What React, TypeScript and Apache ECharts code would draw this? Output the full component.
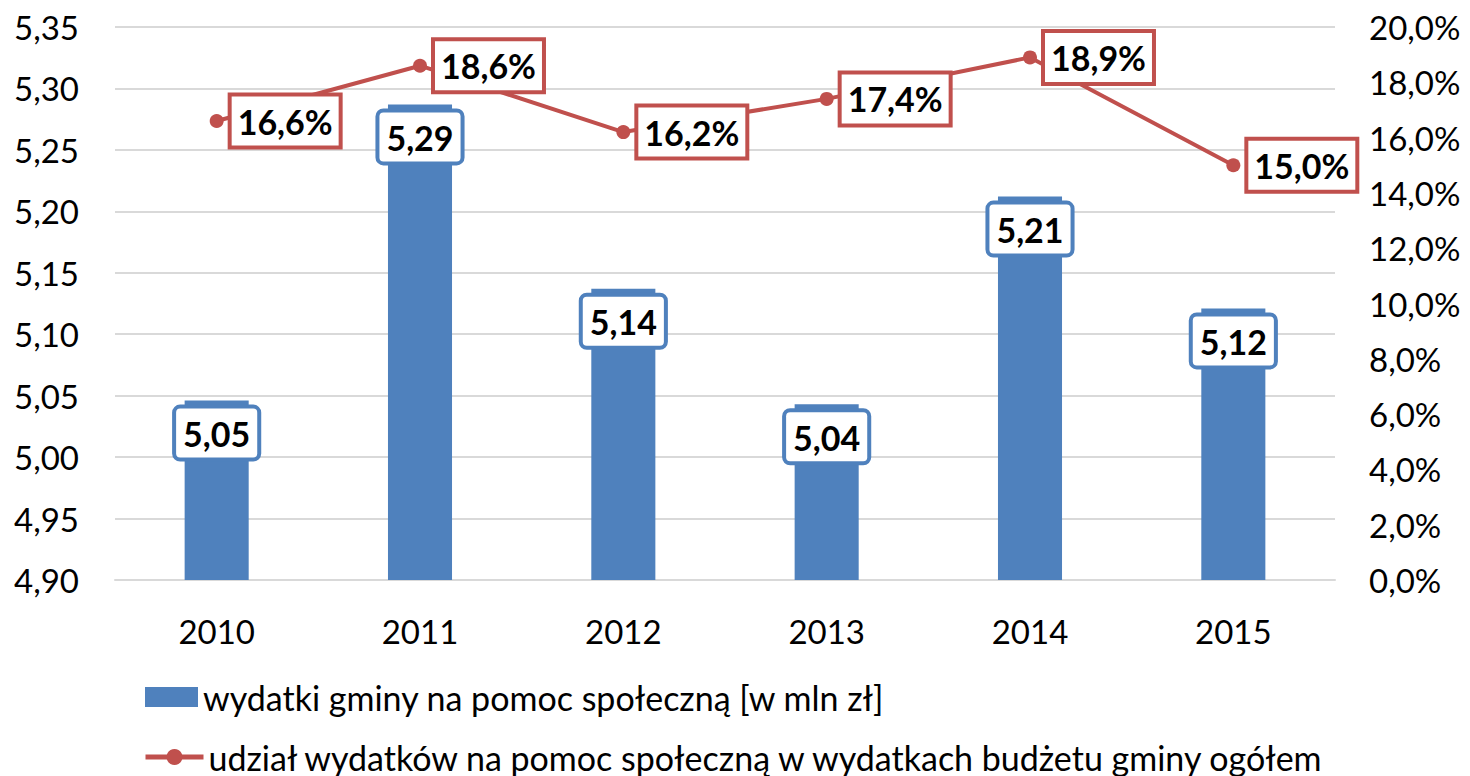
import React, { useEffect, useRef } from "react";
import * as echarts from "echarts";

const years = ["2010", "2011", "2012", "2013", "2014", "2015"];
const spending = [5.046, 5.287, 5.137, 5.043, 5.212, 5.121];
const share = [16.6, 18.6, 16.2, 17.4, 18.9, 15.0];
const barName = "wydatki gminy na pomoc społeczną [w mln zł]";
const lineName = "udział wydatków na pomoc społeczną w wydatkach budżetu gminy ogółem";

const BLUE = "#4F81BD";
const RED = "#C0504D";
const FONT = "Lato";
const FS = 33;

export default function App() {
  const ref = useRef<HTMLDivElement>(null);
  useEffect(() => {
    const chart = echarts.init(ref.current!, null, { renderer: "svg" });
    const legendText = { fontFamily: FONT, fontSize: 34, color: "#000", lineHeight: 40 };
    chart.setOption({
      animation: false,
      textStyle: { fontFamily: FONT },
      grid: { left: 115, right: 135, top: 27, bottom: 196, containLabel: false },
      legend: [
        {
          left: 145,
          top: 677,
          padding: 0,
          itemWidth: 53,
          itemHeight: 20,
          textStyle: legendText,
          data: [{ name: barName, icon: "rect" }],
        },
        {
          left: 143,
          top: 737,
          padding: 0,
          itemWidth: 58,
          itemHeight: 20,
          textStyle: legendText,
          lineStyle: { width: 5, color: RED },
          data: [{ name: lineName }],
        },
      ],
      xAxis: {
        type: "category",
        data: years,
        axisLine: { lineStyle: { color: "#D9D9D9", width: 2 } },
        axisTick: { show: false },
        axisLabel: { fontSize: FS, color: "#000", margin: 34, fontFamily: FONT },
      },
      yAxis: [
        {
          type: "value",
          min: 4.9,
          max: 5.35,
          interval: 0.05,
          axisLine: { show: false },
          axisTick: { show: false },
          splitLine: { lineStyle: { color: "#D9D9D9", width: 2 } },
          axisLabel: {
            fontSize: FS,
            color: "#000",
            margin: 36,
            fontFamily: FONT,
            formatter: (v: number) => v.toFixed(2).replace(".", ","),
          },
        },
        {
          type: "value",
          min: 0,
          max: 20,
          interval: 2,
          axisLine: { show: false },
          axisTick: { show: false },
          splitLine: { show: false },
          axisLabel: {
            fontSize: FS,
            color: "#000",
            margin: 34,
            fontFamily: FONT,
            formatter: (v: number) => v.toFixed(1).replace(".", ",") + "%",
          },
        },
      ],
      series: [
        {
          name: barName,
          type: "bar",
          data: spending,
          barWidth: "31.5%",
          itemStyle: { color: BLUE },
          label: {
            show: true,
            position: "insideTop",
            distance: 8,
            formatter: (p: any) => p.value.toFixed(2).replace(".", ","),
            fontSize: 34,
            lineHeight: 38,
            fontWeight: "bold",
            fontFamily: FONT,
            color: "#000",
            backgroundColor: "#fff",
            borderColor: BLUE,
            borderWidth: 4,
            borderRadius: 4,
            padding: [6, 7, 5, 7],
          },
        },
        {
          name: lineName,
          type: "line",
          yAxisIndex: 1,
          data: share,
          symbol: "circle",
          symbolSize: 14,
          lineStyle: { color: RED, width: 4 },
          itemStyle: { color: RED },
          z: 5,
          label: {
            show: true,
            position: "right",
            distance: 8,
            formatter: (p: any) => p.value.toFixed(1).replace(".", ",") + "%",
            fontSize: 34,
            lineHeight: 38,
            fontWeight: "bold",
            fontFamily: FONT,
            color: "#000",
            backgroundColor: "#fff",
            borderColor: RED,
            borderWidth: 4,
            padding: [6, 6, 5, 6],
          },
        },
      ],
    });
    return () => chart.dispose();
  }, []);
  return (
    <div
      ref={ref}
      style={{ position: "fixed", left: 0, top: 0, width: 1470, height: 776, background: "#fff" }}
    />
  );
}
